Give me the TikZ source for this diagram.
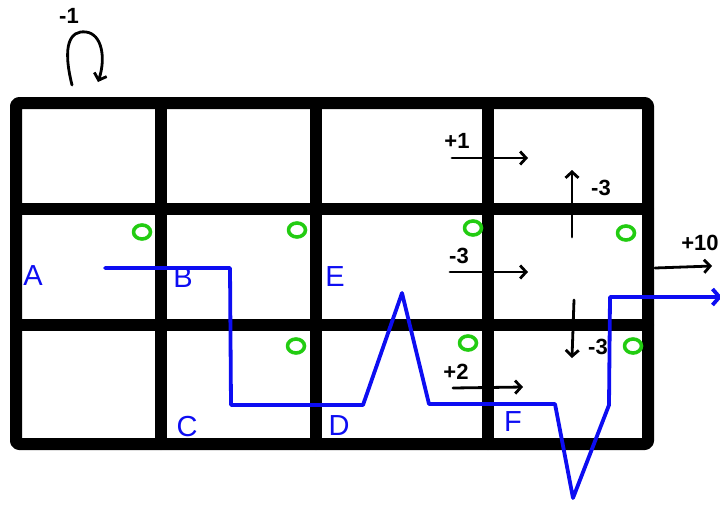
\documentclass[tikz,border=0pt]{standalone}
\usepackage{fontspec}
\setmainfont{Liberation Sans}
\usetikzlibrary{arrows.meta,shapes.geometric}
\definecolor{mzWall}{HTML}{000000}
\definecolor{mzPath}{HTML}{0D0DF2}
\definecolor{mzCoin}{HTML}{22CC11}
\tikzset{
  mz/.style={x=1pt, y=-1pt, line cap=round, line join=round},
  wall/.style={draw=mzWall, line width=12pt},
  act/.style={-{Straight Barb[length=6pt, width=13pt]}, draw=mzWall, line width=2.8pt},
  rew/.style={font=\bfseries\fontsize{22}{22}\selectfont, inner sep=0pt},
  cell/.style={text=mzPath, font=\fontsize{29}{29}\selectfont, inner sep=0pt},
  coin/.style={draw=mzCoin, ellipse, line width=3.6pt, minimum width=17pt, minimum height=14pt, inner sep=0pt},
  route/.style={draw=mzPath, line width=3.8pt},
}

\begin{document}
\begin{tikzpicture}[mz]
\useasboundingbox (0,0) rectangle (720,504);

% grid
\draw[wall, rounded corners=3pt] (16,103) rectangle (648,444);
\foreach \x in {161,316,488} \draw[wall] (\x,103) -- (\x,444);
\foreach \y in {209,325} \draw[wall] (16,\y) -- (648,\y);

% cells
\foreach \n/\p in {A/{33,276}, B/{183,278}, E/{335,277}, C/{187,427}, D/{339,426}, F/{513,422}}
  \node[cell] (c\n) at (\p) {\n};

% coins
\foreach \i/\p in {1/{142,232}, 2/{297,230}, 3/{296,346}, 4/{473,228}, 5/{626,233}, 6/{468,343}, 7/{633,346}}
  \node[coin] (g\i) at (\p) {};

% rewards
\coordinate (s0) at (72,85);
\coordinate (s1) at (98,82);
\draw[act] (s0) .. controls (62,45) and (70,30) .. (86,32) .. controls (102,34) and (106,58) .. (s1);
\node[rew] (rs) at (69,16) {-1};

\coordinate (a0) at (452,158); \coordinate (a1) at (528,158);
\draw[act] (a0) -- (a1);
\node[rew] (ra) at (457,141) {+1};

\coordinate (b0) at (572,237); \coordinate (b1) at (572,170);
\draw[act] (b0) -- (b1);
\node[rew] (rb) at (601,188) {-3};

\coordinate (d0) at (450,272); \coordinate (d1) at (528,272);
\draw[act] (d0) -- (d1);
\node[rew] (rd) at (459,256) {-3};

\coordinate (e0) at (655,268); \coordinate (e1) at (712,266);
\draw[act] (e0) -- (e1);
\node[rew] (re) at (700,243) {+10};

\coordinate (f0) at (574,300); \coordinate (f1) at (572,358);
\draw[act] (f0) -- (f1);
\node[rew] (rf) at (598,347) {-3};

\coordinate (h0) at (453,388); \coordinate (h1) at (523,387);
\draw[act] (h0) -- (h1);
\node[rew] (rh) at (456,372) {+2};

% route
\foreach \i/\p in {1/{105,268}, 2/{230,268}, 3/{231,405}, 4/{363,405}, 5/{402,293}, 6/{429,404},
                   7/{555,404}, 8/{573,498}, 9/{609,405}, 10/{610,297}, 11/{722,297}}
  \coordinate (p\i) at (\p);
\draw[route, -{Straight Barb[length=7pt, width=16pt]}] (p1) -- (p2) -- (p3) -- (p4) -- (p5) -- (p6)
  -- (p7) -- (p8) -- (p9) -- (p10) -- (p11);
\end{tikzpicture}
\end{document}
